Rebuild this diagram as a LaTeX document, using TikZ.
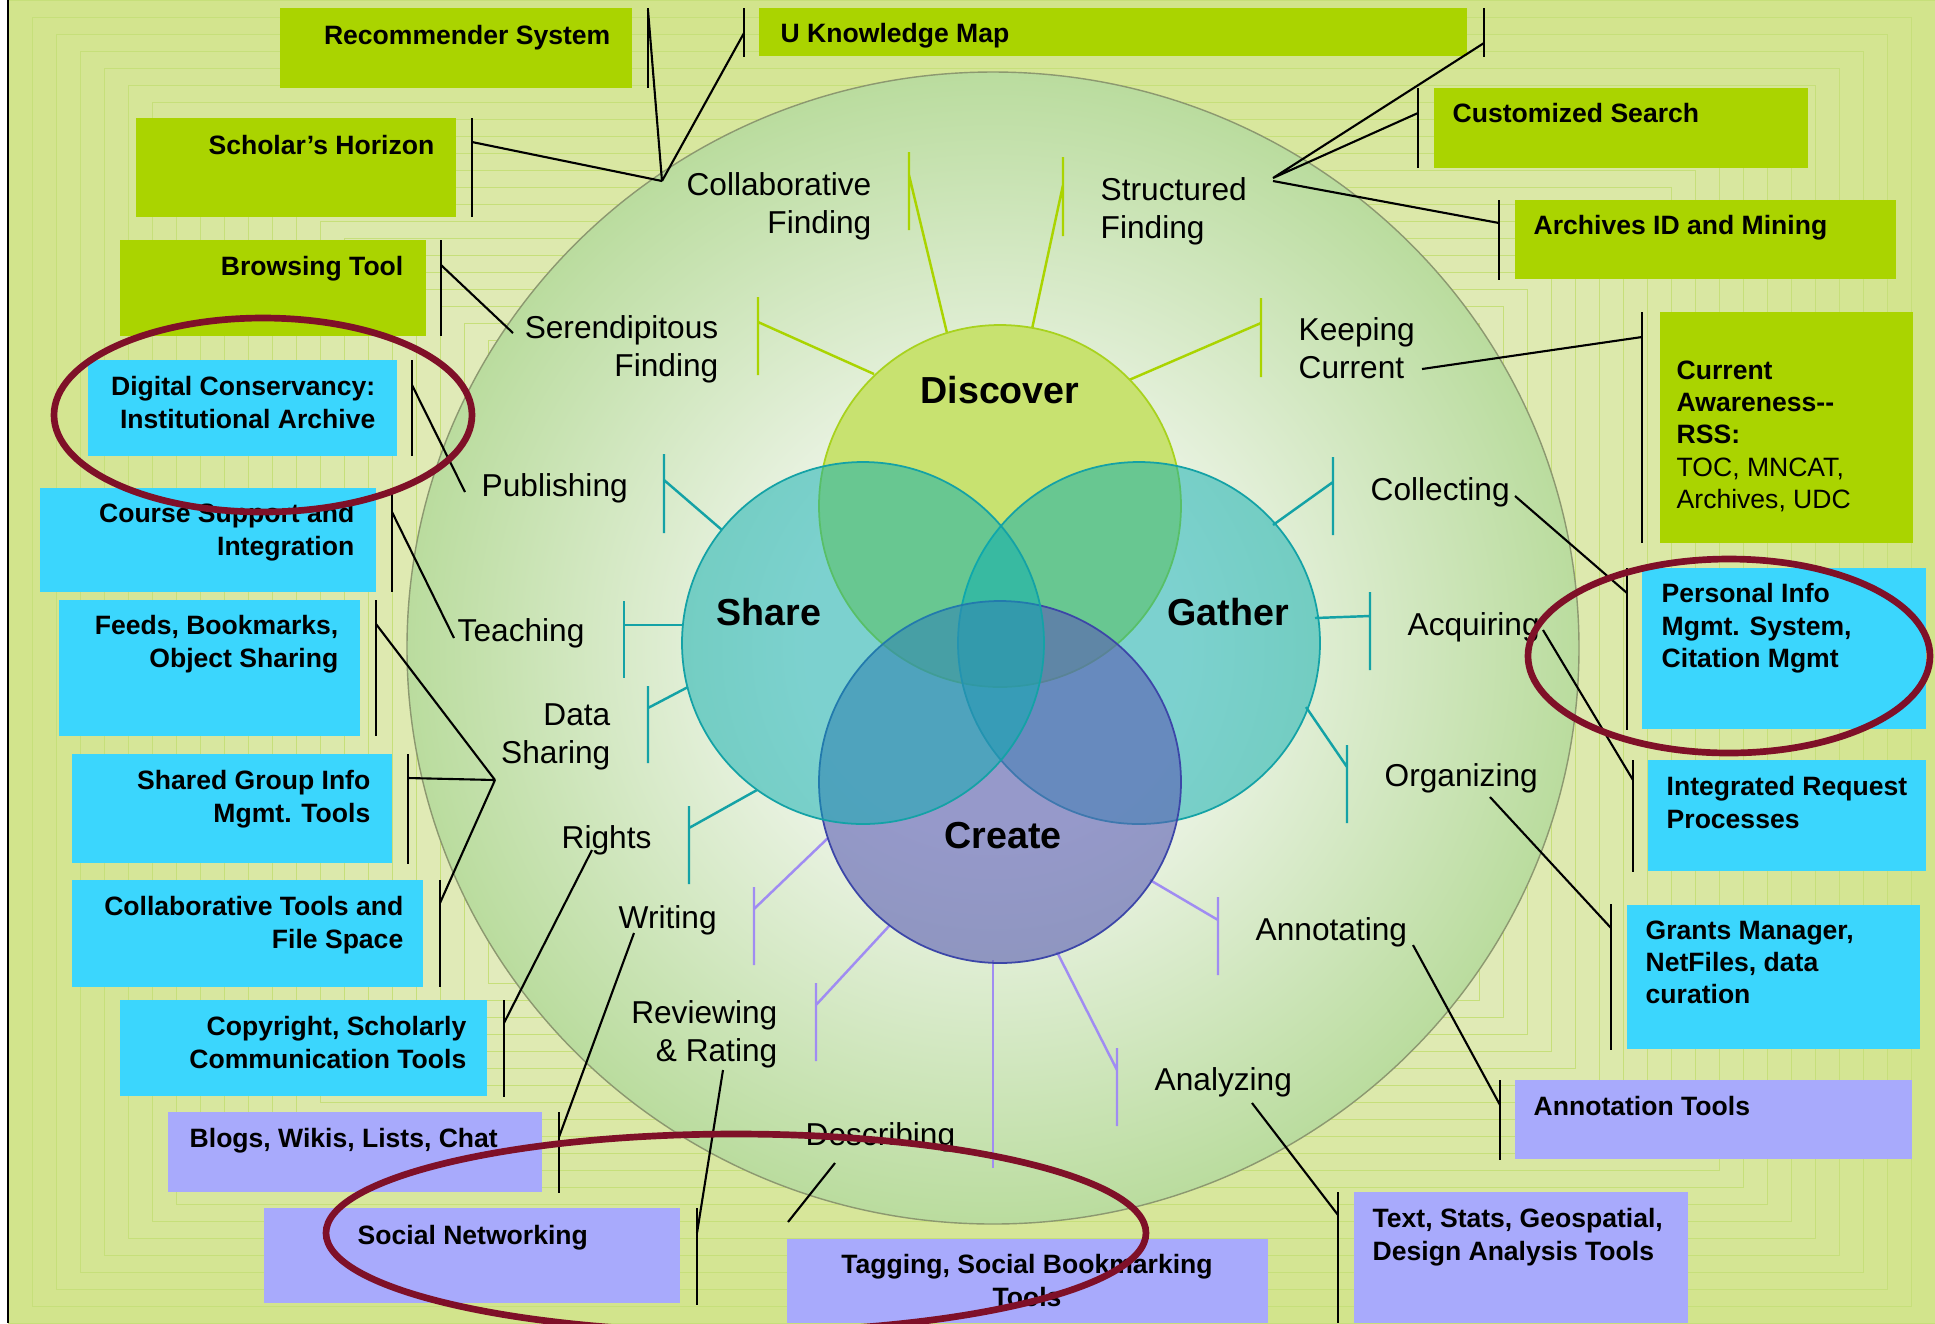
\documentclass[tikz,border=0pt]{standalone}
\usepackage{fontspec}
\setmainfont{Liberation Sans}

\definecolor{bgout}{RGB}{210,228,140}
\definecolor{bgin}{RGB}{230,237,200}
\definecolor{bgline}{RGB}{198,223,122}
\definecolor{glowin}{RGB}{241,246,237}
\definecolor{glowout}{RGB}{186,220,158}
\definecolor{circline}{RGB}{140,152,112}
\definecolor{boxgreen}{RGB}{170,212,0}
\definecolor{boxcyan}{RGB}{59,214,253}
\definecolor{boxpurple}{RGB}{168,170,252}
\definecolor{ringred}{RGB}{127,16,40}
\definecolor{discfill}{RGB}{200,226,112}
\definecolor{discline}{RGB}{168,210,30}
\definecolor{tealfill}{RGB}{9,174,178}
\definecolor{tealline}{RGB}{20,162,166}
\definecolor{createfill}{RGB}{90,92,180}
\definecolor{createline}{RGB}{60,70,168}
\definecolor{lilac}{RGB}{160,140,242}

\pgfdeclareradialshading{glow}{\pgfpoint{0bp}{0bp}}{color(0bp)=(glowin); color(8bp)=(glowin); color(25bp)=(glowout); color(50bp)=(glowout)}

\tikzset{
  bar/.style={black, line width=0.6pt},
  link/.style={black, line width=0.6pt},
  dspoke/.style={boxgreen, line width=0.7pt},
  sspoke/.style={tealline, line width=0.7pt},
  cspoke/.style={lilac, line width=0.7pt},
  boxtext/.style={font=\bfseries\fontsize{7.55}{9.2}\selectfont, inner sep=0pt},
  act/.style={font=\fontsize{9}{10.8}\selectfont, inner sep=0pt},
  hub/.style={font=\bfseries\fontsize{10.7}{12}\selectfont, inner sep=0pt},
  ring/.style={draw=ringred, line width=1.9pt}
}

\begin{document}
\begin{tikzpicture}[x=0.01cm, y=-0.01cm]
\useasboundingbox (0,0) rectangle (1935,1323);

% background frames
\fill[white] (0,0) rectangle (1935,1323);
\foreach \i in {0,...,24} {
  \pgfmathsetmacro\mix{\i*4}
  \filldraw[fill=bgin!\mix!bgout, draw=bgline, line width=0.25pt]
    (8+\i*24,\i*17) rectangle (1935-\i*24,1323-\i*17);
}
\draw[black, line width=0.6pt] (8,0) -- (8,1323);

% large circle
\shadedraw[shading=glow, draw=circline, line width=0.4pt] (993,648) ellipse [x radius=586, y radius=576];

% spokes of Discover
\draw[dspoke] (909,152) -- (909,230) (909,175) -- (947,333);
\draw[dspoke] (1063,157) -- (1063,236) (1063,185) -- (1032,329);
\draw[dspoke] (758,297) -- (758,375) (758,322) -- (874,374);
\draw[dspoke] (1261,298) -- (1261,377) (1261,323) -- (1129,380);
% spokes of Share
\draw[sspoke] (664,454) -- (664,533) (664,480) -- (722,530);
\draw[sspoke] (624,601) -- (624,678) (624,625) -- (683,625);
\draw[sspoke] (648,686) -- (648,763) (648,708) -- (688,687);
\draw[sspoke] (689,806) -- (689,884) (689,828) -- (757,790);
% spokes of Gather
\draw[sspoke] (1333,457) -- (1333,535) (1333,482) -- (1273,525);
\draw[sspoke] (1370,592) -- (1370,670) (1370,616) -- (1315,618);
\draw[sspoke] (1347,745) -- (1347,823) (1347,767) -- (1306,707);
% spokes of Create
\draw[cspoke] (754,887) -- (754,965) (754,909) -- (828,838);
\draw[cspoke] (816,983) -- (816,1061) (816,1005) -- (890,925);
\draw[cspoke] (993,960) -- (993,1168);
\draw[cspoke] (1117,1048) -- (1117,1126) (1117,1070) -- (1057,952);
\draw[cspoke] (1218,897) -- (1218,975) (1218,920) -- (1150,880);

% venn circles
\filldraw[fill=discfill, draw=discline, line width=0.5pt] (1000,506) circle [radius=181];
\filldraw[fill=tealfill, fill opacity=0.5, draw=tealline, line width=0.5pt] (1139,643) circle [radius=181];
\filldraw[fill=createfill, fill opacity=0.6, draw=createline, line width=0.5pt] (1000,782) circle [radius=181];
\filldraw[fill=tealfill, fill opacity=0.5, draw=tealline, line width=0.5pt] (863,643) circle [radius=181];

\node[hub] (discover) at (1000,390) {Discover};
\node[hub] (share) at (769,612) {Share};
\node[hub] (gather) at (1228,612) {Gather};
\node[hub] (create) at (1003,836) {Create};

% activities
\node[act, anchor=north east, align=right] (collabf) at (872,172) {Collaborative\\Finding};
\node[act, anchor=north west, align=left] (structf) at (1100,177) {Structured\\Finding};
\node[act, anchor=north east, align=right] (serendf) at (719,315) {Serendipitous\\Finding};
\node[act, anchor=north west, align=left] (keepc) at (1298,317) {Keeping\\Current};
\node[act, anchor=north west] (publ) at (481,473) {Publishing};
\node[act, anchor=north west] (collect) at (1370,477) {Collecting};
\node[act, anchor=north west] (teach) at (457,618) {Teaching};
\node[act, anchor=north west] (acquire) at (1407,612) {Acquiring};
\node[act, anchor=north east, align=right] (datash) at (611,703) {Data\\Sharing};
\node[act, anchor=north west] (organize) at (1384,763) {Organizing};
\node[act, anchor=north west] (rights) at (561,825) {Rights};
\node[act, anchor=north west] (writing) at (618,905) {Writing};
\node[act, anchor=north west] (annot) at (1255,917) {Annotating};
\node[act, anchor=north east, align=right] (review) at (778,1000) {Reviewing\\\& Rating};
\node[act, anchor=north west] (analyze) at (1154,1067) {Analyzing};
\node[act, anchor=north west] (describe) at (805,1122) {Describing};

% tool boxes
\fill[boxgreen] (280,8) rectangle (632,88);
\fill[boxgreen] (759,8) rectangle (1467,56);
\fill[boxgreen] (136,118) rectangle (456,217);
\fill[boxgreen] (120,240) rectangle (426,336);
\fill[boxcyan] (88,360) rectangle (397,456);
\fill[boxcyan] (40,488) rectangle (376,592);
\fill[boxcyan] (59,600) rectangle (360,736);
\fill[boxcyan] (72,754) rectangle (392,863);
\fill[boxcyan] (72,880) rectangle (423,987);
\fill[boxcyan] (120,1000) rectangle (487,1096);
\fill[boxpurple] (168,1112) rectangle (542,1192);
\fill[boxpurple] (264,1208) rectangle (680,1303);
\fill[boxpurple] (787,1239) rectangle (1268,1323);
\fill[boxpurple] (1354,1192) rectangle (1688,1323);
\fill[boxpurple] (1515,1080) rectangle (1912,1159);
\fill[boxcyan] (1627,905) rectangle (1920,1049);
\fill[boxcyan] (1648,760) rectangle (1926,871);
\fill[boxcyan] (1642,568) rectangle (1926,729);
\fill[boxgreen] (1660,312) rectangle (1913,543);
\fill[boxgreen] (1515,200) rectangle (1896,279);
\fill[boxgreen] (1434,88) rectangle (1808,168);

\node[boxtext, anchor=north east] (rectxt) at (611,25) {Recommender System};
\node[boxtext, anchor=north west] (uktxt) at (780,23) {U Knowledge Map};
\node[boxtext, anchor=north east] (schtxt) at (435,135) {Scholar’s Horizon};
\node[boxtext, anchor=north east] (brwtxt) at (404,256) {Browsing Tool};
\node[boxtext, anchor=north east, align=right] (digtxt) at (376,376) {Digital Conservancy:\\Institutional Archive};
\node[boxtext, anchor=north east, align=right] (crstxt) at (355,503) {Course Support and\\Integration};
\node[boxtext, anchor=north east, align=right] (feedtxt) at (339,615) {Feeds, Bookmarks,\\Object Sharing};
\node[boxtext, anchor=north east, align=right] (grptxt) at (371,770) {Shared Group Info\\Mgmt. Tools};
\node[boxtext, anchor=north east, align=right] (coltxt) at (404,896) {Collaborative Tools and\\File Space};
\node[boxtext, anchor=north east, align=right] (copytxt) at (467,1016) {Copyright, Scholarly\\Communication Tools};
\node[boxtext, anchor=north west] (blogtxt) at (189,1128) {Blogs, Wikis, Lists, Chat};
\node[boxtext, anchor=north west] (soctxt) at (357,1225) {Social Networking};
\node[boxtext, anchor=north, align=center] (tagtxt) at (1027,1254) {Tagging, Social Bookmarking\\Tools};
\node[boxtext, anchor=north west, align=left] (stattxt) at (1372,1208) {Text, Stats, Geospatial,\\Design Analysis Tools};
\node[boxtext, anchor=north west] (anntxt) at (1533,1096) {Annotation Tools};
\node[boxtext, anchor=north west, align=left] (grnttxt) at (1645,920) {Grants Manager,\\NetFiles, data\\curation};
\node[boxtext, anchor=north west, align=left] (reqtxt) at (1666,776) {Integrated Request\\Processes};
\node[boxtext, anchor=north west, align=left] (pimtxt) at (1661,583) {Personal Info\\Mgmt. System,\\Citation Mgmt};
\node[boxtext, anchor=north west, align=left, font=\fontsize{7.55}{9.2}\selectfont] (rsstxt) at (1676,360)
  {\textbf{Current}\\\textbf{Awareness-{}-}\\\textbf{RSS:}\\TOC, MNCAT,\\Archives, UDC};
\node[boxtext, anchor=north west] (archtxt) at (1533,215) {Archives ID and Mining};
\node[boxtext, anchor=north west] (custtxt) at (1452,103) {Customized Search};

% bars beside the boxes
\draw[bar] (648,8) -- (648,88);
\draw[bar] (744,8) -- (744,57);
\draw[bar] (1484,8) -- (1484,57);
\draw[bar] (472,118) -- (472,217);
\draw[bar] (441,240) -- (441,336);
\draw[bar] (412,360) -- (412,456);
\draw[bar] (392,488) -- (392,592);
\draw[bar] (376,600) -- (376,736);
\draw[bar] (408,754) -- (408,864);
\draw[bar] (440,880) -- (440,987);
\draw[bar] (504,1000) -- (504,1097);
\draw[bar] (559,1112) -- (559,1193);
\draw[bar] (697,1208) -- (697,1305);
\draw[bar] (1338,1192) -- (1338,1323);
\draw[bar] (1500,1080) -- (1500,1160);
\draw[bar] (1611,904) -- (1611,1050);
\draw[bar] (1633,760) -- (1633,872);
\draw[bar] (1627,568) -- (1627,730);
\draw[bar] (1642,312) -- (1642,543);
\draw[bar] (1499,200) -- (1499,280);
\draw[bar] (1418,88) -- (1418,168);

% ends of the connectors
\coordinate (cf) at (662,181);
\coordinate (sf) at (1273,178);
\coordinate (sf2) at (1273,181);
\coordinate (sd) at (513,333);
\coordinate (pb) at (465,492);
\coordinate (tc) at (454,638);
\coordinate (ds) at (495,780);
\coordinate (rg) at (592,850);
\coordinate (wr) at (634,933);
\coordinate (rv) at (723,1070);
\coordinate (dc) at (835,1163);
\coordinate (an) at (1252,1103);
\coordinate (at) at (1413,945);
\coordinate (og) at (1490,797);
\coordinate (aq) at (1543,630);
\coordinate (cl) at (1515,496);
\coordinate (kc) at (1422,369);

\coordinate (recb) at (648,10);
\coordinate (ukbl) at (744,33);
\coordinate (ukbr) at (1484,43);
\coordinate (schb) at (472,142);
\coordinate (custb) at (1418,113);
\coordinate (archb) at (1499,223);
\coordinate (brwb) at (441,265);
\coordinate (digb) at (412,385);
\coordinate (crsb) at (392,512);
\coordinate (feedb) at (376,624);
\coordinate (grpb) at (408,778);
\coordinate (colb) at (440,903);
\coordinate (copyb) at (504,1023);
\coordinate (blogb) at (559,1137);
\coordinate (socb) at (697,1233);
\coordinate (tagb) at (788,1222);
\coordinate (statb) at (1338,1215);
\coordinate (annb) at (1500,1105);
\coordinate (grntb) at (1611,928);
\coordinate (reqb) at (1633,780);
\coordinate (pimb) at (1627,593);
\coordinate (rssb) at (1642,337);

\draw[link] (cf) -- (recb) (cf) -- (ukbl) (cf) -- (schb);
\draw[link] (sf) -- (ukbr) (sf) -- (custb) (sf2) -- (archb);
\draw[link] (sd) -- (brwb);
\draw[link] (pb) -- (digb);
\draw[link] (tc) -- (crsb);
\draw[link] (ds) -- (feedb) (ds) -- (grpb) (ds) -- (colb);
\draw[link] (rg) -- (copyb);
\draw[link] (wr) -- (blogb);
\draw[link] (rv) -- (socb);
\draw[link] (dc) -- (tagb);
\draw[link] (an) -- (statb);
\draw[link] (at) -- (annb);
\draw[link] (og) -- (grntb);
\draw[link] (aq) -- (reqb);
\draw[link] (cl) -- (pimb);
\draw[link] (kc) -- (rssb);

% highlight rings
\draw[ring] (263,415) ellipse [x radius=209, y radius=97];
\draw[ring] (1729,656) ellipse [x radius=201, y radius=97];
\draw[ring] (736,1233) ellipse [x radius=410, y radius=99];

\end{tikzpicture}
\end{document}
